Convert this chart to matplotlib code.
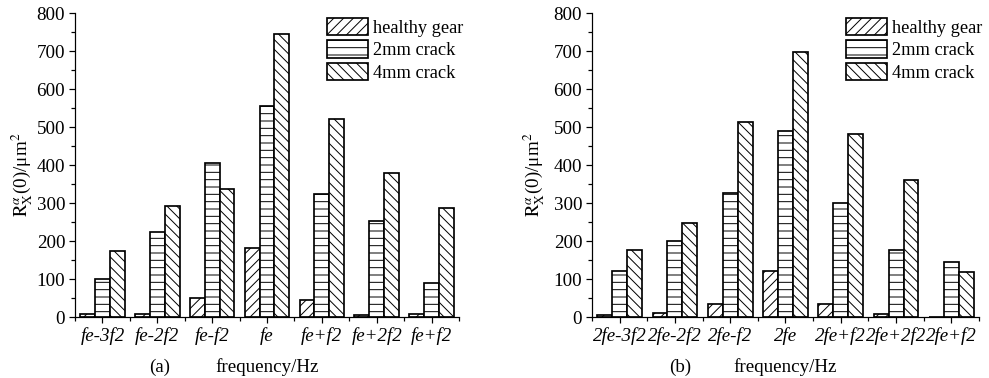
import numpy as np
import matplotlib
matplotlib.use("Agg")
import matplotlib.pyplot as plt
from matplotlib.ticker import MultipleLocator, FixedLocator

# Sideband amplitudes around the meshing frequency (panel a) and its 2nd harmonic (panel b)
labels_a = ["fe-3f2", "fe-2f2", "fe-f2", "fe", "fe+f2", "fe+2f2", "fe+f2"]
healthy_a = [9, 8, 51, 182, 46, 6, 8]
crack2_a = [100, 224, 407, 557, 325, 254, 89]
crack4_a = [175, 293, 338, 745, 523, 379, 288]

labels_b = ["2fe-3f2", "2fe-2f2", "2fe-f2", "2fe", "2fe+f2", "2fe+2f2", "2fe+f2"]
healthy_b = [7, 10, 36, 121, 34, 8, 2]
crack2_b = [123, 200, 326, 490, 300, 178, 146]
crack4_b = [177, 247, 515, 699, 483, 361, 118]

series_names = ["healthy gear", "2mm crack", "4mm crack"]
hatches = ["///", "--", "\\\\\\"]

DPI = 88
plt.rcParams["font.family"] = ["Liberation Serif", "DejaVu Serif"]
plt.rcParams["mathtext.fontset"] = "stix"
plt.rcParams["hatch.linewidth"] = 0.8
plt.rcParams["hatch.color"] = "black"

fig = plt.figure(figsize=(989 / DPI, 378 / DPI), dpi=DPI)

TICK_FS = 15.5
LEG_FS = 15
LAB_FS = 15.5
W = 0.27


def draw_panel(rect, labels, data, tag, tag_x, xl_x, ylab_x):
    ax = fig.add_axes(rect)
    x = np.arange(len(labels))
    for i, (vals, h, name) in enumerate(zip(data, hatches, series_names)):
        ax.bar(x + (i - 1) * W, vals, W, facecolor="white", edgecolor="black",
               hatch=h, linewidth=1.4, label=name)
    ax.set_xlim(-0.5, len(labels) - 0.5)
    ax.set_ylim(0, 800)
    for s in ("top", "right"):
        ax.spines[s].set_visible(False)
    for s in ("left", "bottom"):
        ax.spines[s].set_linewidth(1.0)
    ax.yaxis.set_major_locator(MultipleLocator(100))
    ax.yaxis.set_minor_locator(MultipleLocator(50))
    ax.set_xticks(x)
    ax.set_xticklabels(labels, fontstyle="italic", fontsize=TICK_FS)
    ax.xaxis.set_minor_locator(FixedLocator(np.arange(-0.5, len(labels), 1.0)))
    ax.tick_params(axis="both", which="major", direction="out", length=5, width=1.0,
                   labelsize=TICK_FS, pad=3)
    ax.tick_params(axis="both", which="minor", direction="out", length=3, width=1.0)
    ax.set_ylabel(r"$\mathrm{R}_{\mathrm{X}}^{\alpha}$(0)/μm$^{2}$", fontsize=LAB_FS)
    ax.yaxis.set_label_coords(ylab_x, 0.47)
    ax.legend(loc="upper left", bbox_to_anchor=(0.656, 0.985), frameon=False,
              fontsize=LEG_FS, borderpad=0, borderaxespad=0, handlelength=2.24,
              handleheight=1.07, labelspacing=0.2, handletextpad=0.3)
    fig.text(tag_x, 0.029, tag, fontsize=LAB_FS, ha="center", va="center")
    fig.text(xl_x, 0.029, "frequency/Hz", fontsize=LAB_FS, ha="center", va="center")
    return ax


draw_panel([75 / 989, 1 - 317.3 / 378, 384 / 989, 304 / 378], labels_a,
           [healthy_a, crack2_a, crack4_a], "(a)", 160 / 989, 267 / 989, -0.104)
draw_panel([592 / 989, 1 - 317.3 / 378, 387 / 989, 304 / 378], labels_b,
           [healthy_b, crack2_b, crack4_b], "(b)", 680 / 989, 785 / 989, -0.117)

fig.savefig("out.png", dpi=DPI)
